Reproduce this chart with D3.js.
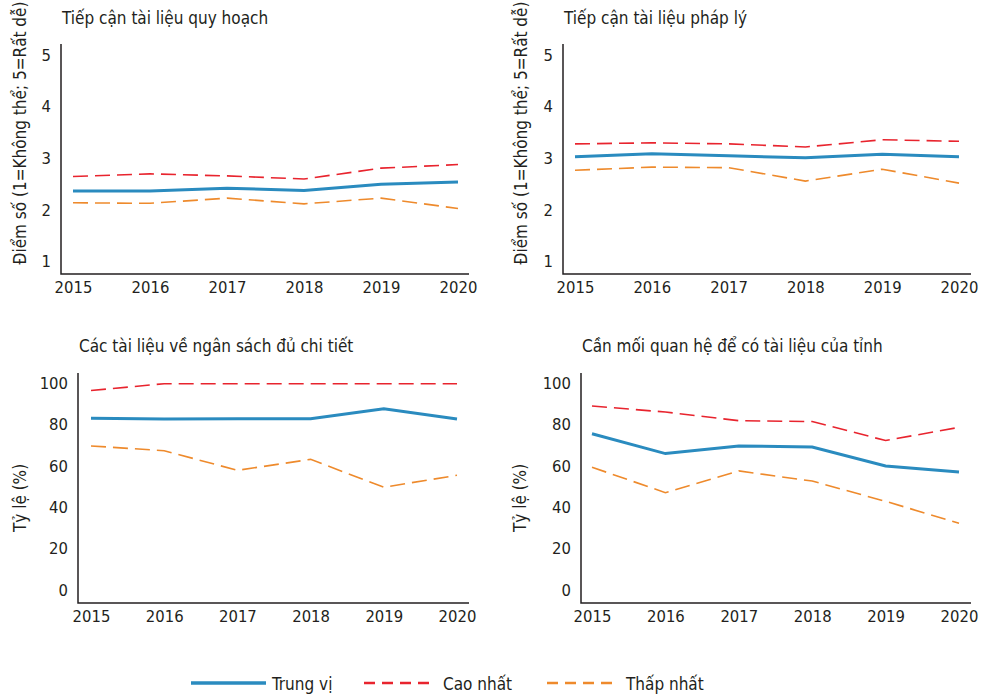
<!DOCTYPE html>
<html lang="vi">

<head>
  <meta charset="utf-8">
  <script src="https://cdn.jsdelivr.net/npm/d3@7/dist/d3.min.js"></script>

  <style>
    body {
      margin: 0;
      background: #fff;
    }

    #chart {
      display: block;
    }

    #chart text {
      fill: #231f20;
      font-family: "DejaVu Sans Condensed", "Noto Sans", sans-serif;
      font-size: 17px;
    }

    #chart .axis text {
      font-size: 16.5px;
    }
  </style>
</head>

<body>
  <svg id="chart" width="986" height="695"></svg>

  <script>
    var years = ['2015', '2016', '2017', '2018', '2019', '2020'];
    var seriesNames = ['Trung vị', 'Cao nhất', 'Thấp nhất'];

    // panel titles
    var titles = [
      'Tiếp cận tài liệu quy hoạch',
      'Tiếp cận tài liệu pháp lý',
      'Các tài liệu về ngân sách đủ chi tiết',
      'Cần mối quan hệ để có tài liệu của tỉnh'
    ];
    var yLabels = [
      'Điểm số (1=Không thể; 5=Rất dễ)',
      'Điểm số (1=Không thể; 5=Rất dễ)',
      'Tỷ lệ (%)',
      'Tỷ lệ (%)'
    ];
    var scoreTicks = [1, 2, 3, 4, 5];
    var pctTicks = [0, 20, 40, 60, 80, 100];

    // values: median, highest, lowest
    var planMedian = [2.37, 2.37, 2.42, 2.38, 2.50, 2.54];
    var planHigh = [2.65, 2.70, 2.66, 2.60, 2.81, 2.88];
    var planLow = [2.14, 2.13, 2.23, 2.12, 2.23, 2.03];

    var legalMedian = [3.03, 3.09, 3.05, 3.01, 3.08, 3.03];
    var legalHigh = [3.28, 3.30, 3.28, 3.22, 3.36, 3.33];
    var legalLow = [2.77, 2.83, 2.82, 2.56, 2.79, 2.52];

    var budgetMedian = [83.1, 82.7, 82.9, 82.9, 87.7, 82.7];
    var budgetHigh = [96.5, 99.8, 99.8, 99.8, 99.8, 99.8];
    var budgetLow = [69.7, 67.4, 57.9, 63.2, 49.7, 55.5];

    var relMedian = [75.6, 66.0, 69.7, 69.2, 60.0, 57.1];
    var relHigh = [89.0, 86.1, 81.9, 81.5, 72.3, 78.7];
    var relLow = [59.4, 47.1, 57.6, 52.7, 42.9, 32.3];

    var colors = ['#2a8bbf', '#e8242e', '#ee8a2c'];
    var widths = [3, 1.6, 1.6];
    var dashes = [null, '15,7', '15,7'];

    var panels = [
      { left: 61, right: 469, top: 44, bottom: 274, x0: 73, x1: 458, y0: 261.7, y1: 55, domain: [1, 5], ticks: scoreTicks, labelX: 20, titleY: 24, series: [planMedian, planHigh, planLow] },
      { left: 563, right: 971, top: 44, bottom: 274, x0: 575, x1: 959, y0: 261.7, y1: 55, domain: [1, 5], ticks: scoreTicks, labelX: 521, titleY: 24, series: [legalMedian, legalHigh, legalLow] },
      { left: 78, right: 469, top: 373, bottom: 603, x0: 91, x1: 457, y0: 590, y1: 383.3, domain: [0, 100], ticks: pctTicks, labelX: 20, titleY: 352, series: [budgetMedian, budgetHigh, budgetLow] },
      { left: 581, right: 971, top: 373, bottom: 603, x0: 592, x1: 959, y0: 590, y1: 383.3, domain: [0, 100], ticks: pctTicks, labelX: 520, titleY: 352, series: [relMedian, relHigh, relLow] }
    ];

    var svg = d3.select('#chart');

    panels.forEach(function (p, i) {
      var x = d3.scalePoint().domain(years).range([p.x0, p.x1]);
      var y = d3.scaleLinear().domain(p.domain).range([p.y0, p.y1]);

      var g = svg.append('g');

      // L-shaped frame
      g.append('path')
        .attr('d', 'M' + p.left + ',' + p.top + 'V' + p.bottom + 'H' + p.right)
        .attr('fill', 'none')
        .attr('stroke', '#231f20')
        .attr('stroke-width', 1.5);

      g.append('g')
        .attr('class', 'axis')
        .attr('transform', 'translate(0,' + p.bottom + ')')
        .call(d3.axisBottom(x).tickSize(0).tickPadding(7))
        .call(function (a) { a.select('.domain').remove(); })
        .selectAll('text').attr('dy', '0.71em');

      g.append('g')
        .attr('class', 'axis')
        .attr('transform', 'translate(' + p.left + ',0)')
        .call(d3.axisLeft(y).tickValues(p.ticks).tickFormat(d3.format('d')).tickSize(0).tickPadding(10))
        .call(function (a) { a.select('.domain').remove(); });

      g.append('text')
        .attr('class', 'title')
        .attr('x', p.left + 1)
        .attr('y', p.titleY)
        .text(titles[i]);

      g.append('text')
        .attr('class', 'ylabel')
        .attr('transform', 'translate(' + p.labelX + ',' + ((p.top + p.bottom) / 2 + (i < 2 ? -26 : 10)) + ') rotate(-90)')
        .attr('text-anchor', 'middle')
        .attr('dy', '0.35em')
        .text(yLabels[i]);

      var line = d3.line()
        .x(function (d, k) { return x(years[k]); })
        .y(function (d) { return y(d); });

      // draw low, high, then median on top
      [2, 1, 0].forEach(function (s) {
        g.append('path')
          .datum(p.series[s])
          .attr('d', line)
          .attr('fill', 'none')
          .attr('stroke', colors[s])
          .attr('stroke-width', widths[s])
          .attr('stroke-dasharray', dashes[s]);
      });
    });

    // legend
    var legendItems = [
      { x1: 191, x2: 266, tx: 272 },
      { x1: 364, x2: 430, tx: 443 },
      { x1: 547, x2: 612, tx: 626 }
    ];
    var legend = svg.append('g').attr('class', 'legend');
    legendItems.forEach(function (it, s) {
      legend.append('line')
        .attr('x1', it.x1).attr('x2', it.x2)
        .attr('y1', 683).attr('y2', 683)
        .attr('stroke', colors[s])
        .attr('stroke-width', s === 0 ? 3.5 : 2.5)
        .attr('stroke-dasharray', s === 0 ? null : '11,7');
      legend.append('text')
        .attr('x', it.tx)
        .attr('y', 684)
        .attr('dy', '0.35em')
        .text(seriesNames[s]);
    });
  </script>
</body>

</html>
